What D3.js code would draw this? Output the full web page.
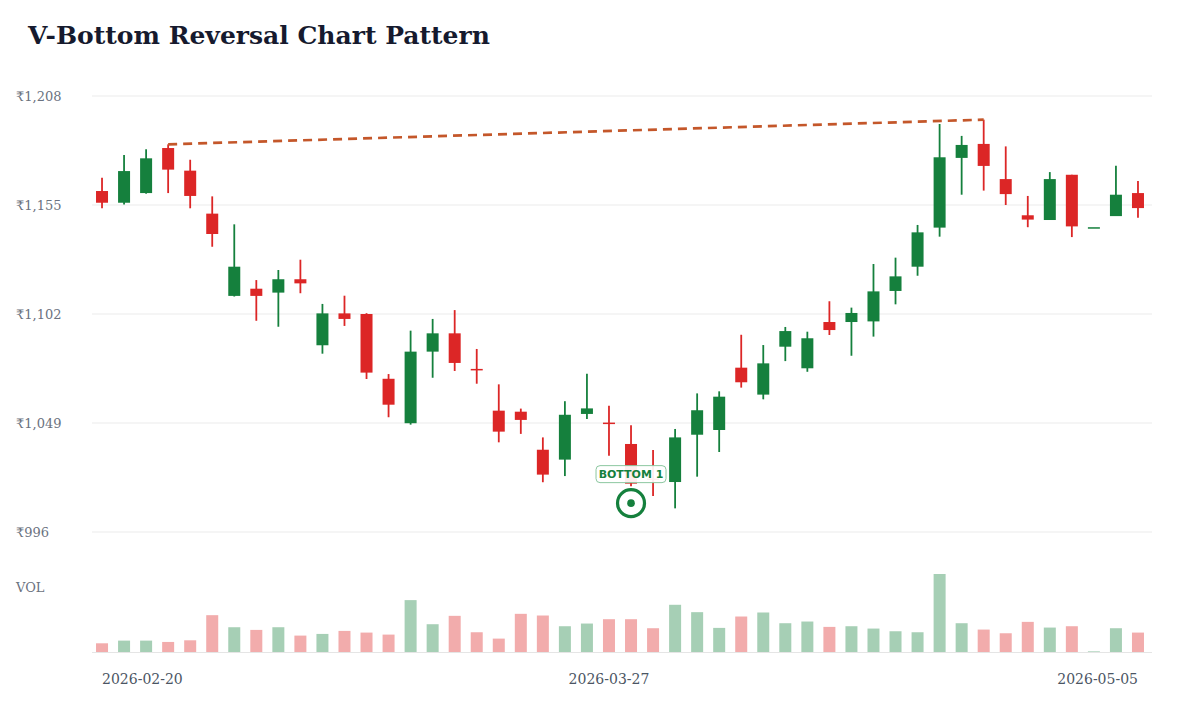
<!DOCTYPE html>
<html>
<head>
<meta charset="utf-8">
<script src="https://cdn.jsdelivr.net/npm/d3@7"></script>
<style>
    html, body { margin: 0; padding: 0; background: #ffffff; }
    svg#vis-vbottom { display: block; }
</style>
</head>
<body>
<svg id="vis-vbottom" width="1200" height="720"></svg>
<script>

const dates = [
    '2026-02-20', '2026-02-23', '2026-02-24', '2026-02-25', '2026-02-26', '2026-02-27',
    '2026-03-02', '2026-03-04', '2026-03-05', '2026-03-06', '2026-03-09', '2026-03-10',
    '2026-03-11', '2026-03-12', '2026-03-13', '2026-03-16', '2026-03-17', '2026-03-18',
    '2026-03-19', '2026-03-20', '2026-03-23', '2026-03-24', '2026-03-25', '2026-03-27',
    '2026-03-30', '2026-03-31', '2026-04-01', '2026-04-02', '2026-04-06', '2026-04-07',
    '2026-04-08', '2026-04-09', '2026-04-10', '2026-04-13', '2026-04-15', '2026-04-16',
    '2026-04-17', '2026-04-20', '2026-04-21', '2026-04-22', '2026-04-23', '2026-04-24',
    '2026-04-27', '2026-04-28', '2026-04-29', '2026-04-30', '2026-05-04', '2026-05-05'
];

const open = [
    1161.8, 1156.1, 1160.8, 1182.7, 1171.7, 1150.8, 1110.8, 1114.3, 1112.4, 1118.9, 1086.8, 1102.3,
    1102.0, 1070.5, 1048.9, 1083.7, 1092.6, 1075.3, 1055.0, 1054.5, 1036.0, 1031.2, 1053.4, 1049.2,
    1038.8, 1022.0, 1020.3, 1043.3, 1045.6, 1075.9, 1062.8, 1086.1, 1075.6, 1098.1, 1098.1, 1098.4,
    1113.2, 1125.0, 1144.0, 1177.9, 1184.7, 1167.6, 1150.0, 1147.7, 1169.7, 1144.2, 1149.6, 1160.8
];

const high = [
    1168.3, 1179.3, 1182.1, 1184.5, 1177.0, 1159.2, 1145.6, 1118.5, 1123.4, 1128.4, 1106.9, 1110.9,
    1102.4, 1072.8, 1093.9, 1099.6, 1103.9, 1085.0, 1067.8, 1056.0, 1042.0, 1059.6, 1073.0, 1057.4,
    1047.9, 1035.9, 1046.1, 1063.4, 1064.4, 1091.9, 1086.9, 1095.7, 1093.4, 1108.2, 1105.1, 1126.3,
    1129.4, 1145.3, 1194.4, 1188.6, 1196.5, 1183.5, 1159.4, 1171.0, 1169.7, 1144.2, 1174.1, 1166.7
];

const low = [
    1153.4, 1155.2, 1160.5, 1160.8, 1153.4, 1134.7, 1110.5, 1098.7, 1095.8, 1112.1, 1082.7, 1096.2,
    1070.4, 1051.8, 1048.2, 1071.0, 1074.3, 1068.1, 1039.6, 1043.7, 1020.2, 1023.2, 1050.9, 1033.1,
    1018.3, 1013.5, 1007.5, 1022.9, 1034.9, 1066.2, 1060.5, 1079.1, 1073.9, 1091.8, 1081.7, 1091.0,
    1106.7, 1120.6, 1139.6, 1160.0, 1162.0, 1155.0, 1144.2, 1147.7, 1139.4, 1144.2, 1149.6, 1148.8
];

const close = [
    1156.1, 1171.5, 1177.7, 1172.2, 1159.4, 1140.9, 1125.0, 1110.8, 1118.9, 1116.9, 1102.3, 1099.6,
    1073.5, 1057.9, 1083.7, 1092.6, 1078.2, 1074.9, 1044.8, 1050.5, 1023.9, 1053.0, 1056.1, 1048.8,
    1019.5, 1021.5, 1042.0, 1055.2, 1061.8, 1068.8, 1078.0, 1093.7, 1090.2, 1094.2, 1102.5, 1113.0,
    1120.3, 1141.7, 1178.2, 1184.2, 1174.0, 1160.3, 1147.9, 1167.6, 1144.6, 1144.2, 1160.0, 1153.5
];

// volume in thousands
const volume = [
    104, 136, 136, 120, 140, 440, 296, 264, 296, 196, 216, 252,
    232, 208, 620, 332, 432, 236, 160, 456, 436, 308, 340, 392,
    392, 284, 564, 476, 288, 424, 472, 344, 364, 300, 308, 280,
    248, 236, 932, 344, 268, 224, 360, 292, 308, 8, 284, 232
];

const priceTicks = [996, 1049, 1102, 1155, 1208];
const dateTicks = [0, 23, 47];

const peaks = [3, 40];
const bottoms = [{ idx : 24, label : 'BOTTOM 1' }];

const vb = {

    dims : {

        left : 91,
        right : 1149,
        gridLeft : 92,
        gridRight : 1152,
        priceTop : 96,
        priceBottom : 532,
        volTop : 574,
        volBottom : 652

    },

    colors : {

        up : '#15803d',
        down : '#dc2626',
        grid : '#ececec',
        label : '#6b7280',
        neck : '#c4572a'

    },

    scales : {

        x : null,
        y : null,
        v : null,

        build : function() {

            let d = vb.dims;

            vb.scales.x = d3.scaleBand()
                .domain(d3.range(dates.length))
                .range([d.left, d.right]);

            vb.scales.y = d3.scaleLinear()
                .domain([d3.min(priceTicks), d3.max(priceTicks)])
                .range([d.priceBottom, d.priceTop]);

            vb.scales.v = d3.scaleLinear()
                .domain([0, d3.max(volume)])
                .range([d.volBottom, d.volTop]);

        }

    },

    cx : i => vb.scales.x(i) + vb.scales.x.bandwidth() / 2,

    isUp : i => close[i] >= open[i],

    render : {

        title : function(svg) {

            svg.append('text')
                .attr('x', 28)
                .attr('y', 44)
                .attr('font-family', 'DejaVu Serif')
                .attr('font-weight', 'bold')
                .attr('font-size', 25)
                .attr('fill', '#161a2e')
                .text('V-Bottom Reversal Chart Pattern');

        },

        grid : function(svg) {

            let d = vb.dims;
            let y = vb.scales.y;

            svg.append('g')
                .selectAll('line')
                .data(priceTicks)
                .join('line')
                .attr('x1', d.gridLeft)
                .attr('x2', d.gridRight)
                .attr('y1', t => y(t))
                .attr('y2', t => y(t))
                .attr('stroke', vb.colors.grid)
                .attr('stroke-width', 1.2);

            svg.append('g')
                .selectAll('text')
                .data(priceTicks)
                .join('text')
                .attr('x', 16)
                .attr('y', t => y(t))
                .attr('dy', '0.35em')
                .attr('font-family', 'DejaVu Serif')
                .attr('font-size', 13)
                .attr('fill', vb.colors.label)
                .text(t => '₹' + d3.format(',')(t));

            // volume baseline
            svg.append('line')
                .attr('x1', d.gridLeft)
                .attr('x2', d.gridRight)
                .attr('y1', d.volBottom + 0.5)
                .attr('y2', d.volBottom + 0.5)
                .attr('stroke', '#e5e5e5')
                .attr('stroke-width', 1.2);

            svg.append('text')
                .attr('x', 16)
                .attr('y', 587)
                .attr('dy', '0.35em')
                .attr('font-family', 'DejaVu Serif')
                .attr('font-size', 13)
                .attr('fill', vb.colors.label)
                .text('VOL');

        },

        dates : function(svg) {

            let n = dates.length;

            svg.append('g')
                .selectAll('text')
                .data(dateTicks)
                .join('text')
                .attr('x', i => vb.cx(i))
                .attr('y', 684)
                .attr('text-anchor', i => i === 0 ? 'start' : (i === n - 1 ? 'end' : 'middle'))
                .attr('font-family', 'DejaVu Serif')
                .attr('font-size', 14)
                .attr('fill', '#4b5563')
                .text(i => dates[i]);

        },

        volume : function(svg) {

            let v = vb.scales.v;
            let bw = 12;

            svg.append('g')
                .selectAll('rect')
                .data(d3.range(volume.length))
                .join('rect')
                .attr('x', i => vb.cx(i) - bw / 2)
                .attr('y', i => v(volume[i]))
                .attr('width', bw)
                .attr('height', i => v(0) - v(volume[i]))
                .attr('fill', i => vb.isUp(i) ? vb.colors.up : vb.colors.down)
                .attr('fill-opacity', 0.38);

        },

        candles : function(svg) {

            let y = vb.scales.y;
            let bw = 12;

            let g = svg.append('g')
                .selectAll('g')
                .data(d3.range(dates.length))
                .join('g')
                .attr('fill', i => vb.isUp(i) ? vb.colors.up : vb.colors.down)
                .attr('stroke', i => vb.isUp(i) ? vb.colors.up : vb.colors.down);

            g.append('line')
                .attr('x1', i => vb.cx(i))
                .attr('x2', i => vb.cx(i))
                .attr('y1', i => y(high[i]))
                .attr('y2', i => y(low[i]))
                .attr('stroke-width', 1.8);

            g.append('rect')
                .attr('x', i => vb.cx(i) - bw / 2)
                .attr('y', i => y(Math.max(open[i], close[i])))
                .attr('width', bw)
                .attr('height', i => Math.max(1.5, Math.abs(y(open[i]) - y(close[i]))))
                .attr('stroke', 'none');

        },

        neckline : function(svg) {

            let y = vb.scales.y;

            svg.append('line')
                .attr('x1', vb.cx(peaks[0]))
                .attr('y1', y(high[peaks[0]]))
                .attr('x2', vb.cx(peaks[1]))
                .attr('y2', y(high[peaks[1]]))
                .attr('stroke', vb.colors.neck)
                .attr('stroke-width', 2.7)
                .attr('stroke-dasharray', '9,6');

        },

        bottoms : function(svg) {

            let y = vb.scales.y;

            bottoms.forEach(b => {

                let x = vb.cx(b.idx);
                let my = y(low[b.idx]) + 17;

                svg.append('circle')
                    .attr('cx', x)
                    .attr('cy', my)
                    .attr('r', 13.5)
                    .attr('fill', '#ffffff')
                    .attr('stroke', vb.colors.up)
                    .attr('stroke-width', 3.2);

                svg.append('circle')
                    .attr('cx', x)
                    .attr('cy', my)
                    .attr('r', 3.8)
                    .attr('fill', vb.colors.up);

                let ly = my - 29;

                svg.append('rect')
                    .attr('x', x - 35)
                    .attr('y', ly - 8.5)
                    .attr('width', 70)
                    .attr('height', 17)
                    .attr('rx', 4)
                    .attr('fill', '#ffffff')
                    .attr('fill-opacity', 0.92)
                    .attr('stroke', '#8cc7a0')
                    .attr('stroke-width', 1);

                svg.append('text')
                    .attr('x', x)
                    .attr('y', ly)
                    .attr('dy', '0.36em')
                    .attr('text-anchor', 'middle')
                    .attr('font-family', 'DejaVu Sans')
                    .attr('font-weight', 'bold')
                    .attr('font-size', 11)
                    .attr('fill', vb.colors.up)
                    .text(b.label);

            });

        }

    },

    ctrl : {

        init : function() {

            const svg = d3.select('svg#vis-vbottom');

            vb.scales.build();

            vb.render.title(svg);
            vb.render.grid(svg);
            vb.render.volume(svg);
            vb.render.candles(svg);
            vb.render.neckline(svg);
            vb.render.bottoms(svg);
            vb.render.dates(svg);

        }

    }

}

vb.ctrl.init();
</script>
</body>
</html>
